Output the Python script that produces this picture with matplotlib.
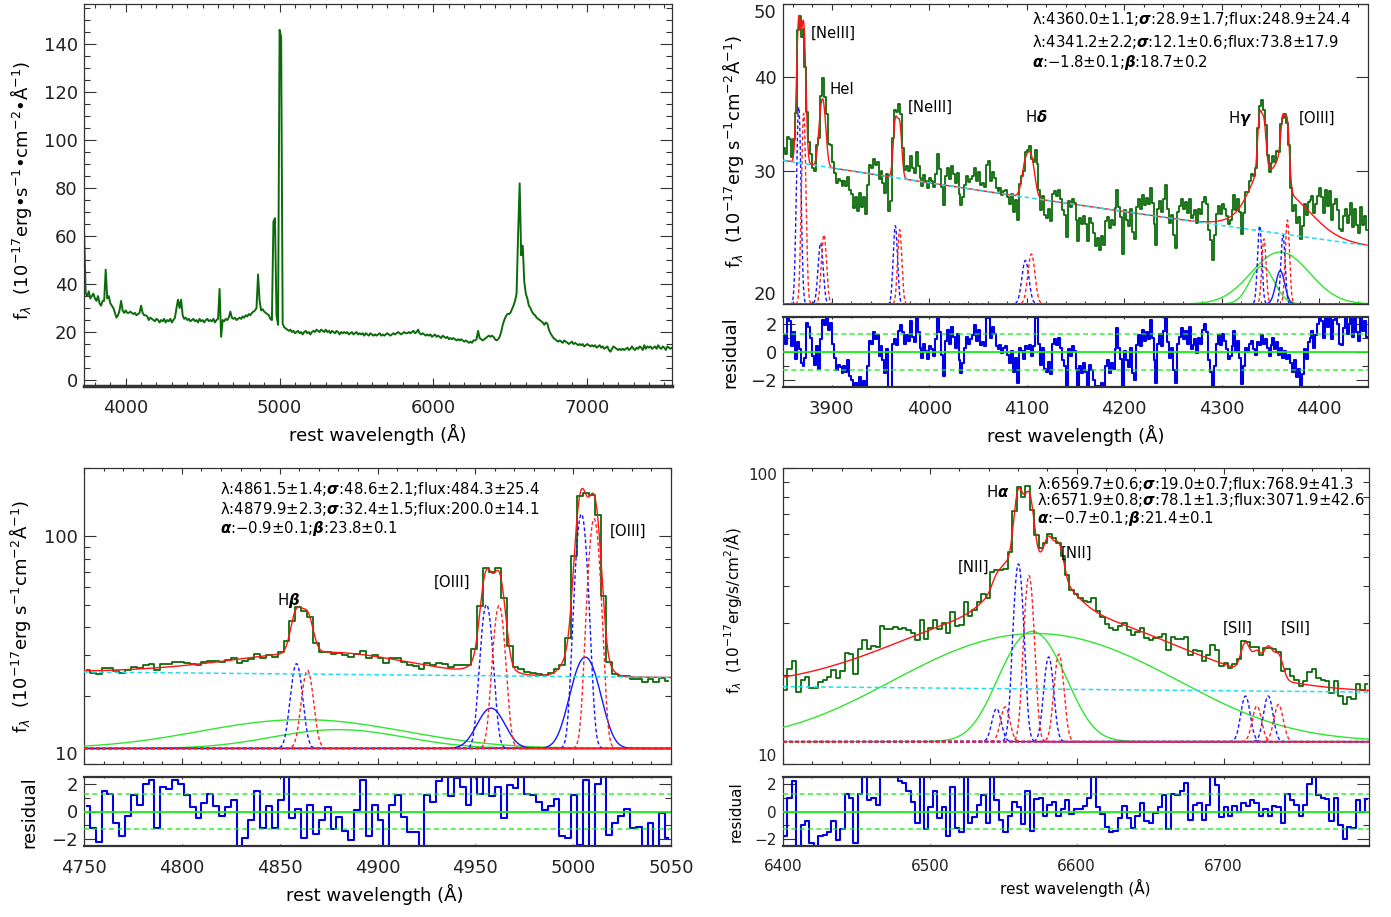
import numpy as np
import matplotlib
matplotlib.use("Agg")
import matplotlib.pyplot as plt
from matplotlib.ticker import FixedLocator, FixedFormatter, MultipleLocator, NullLocator
from matplotlib.mathtext import MathTextParser

plt.rcParams['font.family'] = ['DejaVu Sans']
plt.rcParams['mathtext.fontset'] = 'dejavusans'

# ----------------------------------------------------------------- data
# full spectrum (top-left), 10 A sampling from 3730 A
full_start, full_step = 3730, 10
full_flux = [
    61, 36, 35, 37, 34, 35, 36, 34, 33, 35,
    32, 31, 33, 33, 46, 34, 35, 32, 31, 30,
    28, 26, 27, 29, 33, 29, 28, 29, 28, 28,
    28.5, 28, 27.5, 28, 27, 27.5, 28, 31, 28, 27,
    27, 26.5, 25, 26, 25.5, 25, 24.5, 25.5, 25, 24,
    25, 24.5, 25.5, 24, 25, 24.5, 25.5, 24, 25, 26,
    30, 33.5, 30, 33.5, 27, 25.5, 26, 25, 25.5, 24.5,
    25, 25.5, 24.5, 25, 24, 25.5, 24.5, 25, 24, 25,
    25.5, 24.5, 25, 24.5, 25.5, 24, 25, 25.5, 38, 18,
    25, 24.5, 25.5, 25, 26, 28.5, 26, 25.5, 26, 25,
    25.5, 26, 25.5, 26.5, 26, 27, 26.5, 27.5, 27, 28,
    28.5, 29, 30, 44, 33, 29, 29.5, 28.5, 28, 27.5,
    27, 25.5, 25, 66, 67.5, 27, 23, 146, 143, 23.5,
    22, 21.5, 21, 20.5, 21, 20, 20.5, 19.5, 20, 20.5,
    19.5, 20, 19, 20, 20.5, 19.5, 20, 19, 20, 20.5,
    20, 21, 20.5, 20, 21, 20.5, 20, 21, 20, 20.5,
    19.5, 20.5, 20, 19.5, 20.5, 20, 19, 20, 19.5, 20,
    19.5, 20, 19, 19.5, 20, 19, 19.5, 20, 19, 19.5,
    19, 19.5, 18.5, 19.5, 19, 18.5, 19.5, 19, 18.5, 19,
    18.5, 19, 19.5, 18.5, 19, 18.5, 19, 19.5, 19, 18.5,
    19, 19.5, 19, 19.5, 20, 19.5, 19, 19.5, 20, 19.5,
    19.5, 20, 19.5, 20, 20.5, 19.5, 20, 21, 19.5, 19,
    19.5, 19, 18.5, 19, 18.5, 19, 18, 18.5, 19, 18,
    18.5, 18, 17.5, 18.5, 18, 17.5, 18, 17, 17.5, 17,
    17.5, 17, 16.5, 17, 16.5, 17, 16.5, 16, 16.5, 16,
    15.5, 16, 15.5, 16.5, 16.5, 17, 20.5, 17.5, 17, 16.5,
    17, 17.5, 18, 18.5, 18, 18.5, 18, 17, 16.5, 17,
    18, 20, 23, 25, 26.5, 27.5, 27.5, 28, 29.5, 31,
    33, 36, 61, 82, 52, 56, 41, 36, 34, 31,
    30, 28.5, 27.5, 27, 26, 25.5, 25, 24.5, 24, 23,
    24, 23.5, 21, 19.5, 18.5, 17.5, 17, 16.5, 16, 16.5,
    16, 15.5, 16.5, 16, 15.5, 15, 15.5, 16, 15, 15.5,
    15, 14.5, 15, 14.5, 15, 14, 14.5, 15, 14.5, 14,
    14.5, 14, 14.5, 13.5, 14, 14.5, 13.5, 14, 13, 13.5,
    14, 12.5, 11.8, 13, 14, 13.5, 13, 12.5, 13, 12.5,
    13, 12.5, 13, 13.5, 12.5, 13, 14, 13, 12.5, 13.5,
    13, 14, 13.5, 12.5, 14.5, 13, 14, 13.5, 14, 13,
    13.5, 14, 13, 14.5, 13.5, 13, 14, 13.5, 12.5, 14,
    13.5, 13, 13.5]

# ---- H-gamma window
hg_start, hg_step = 3851, 2
hg_resid = [
    1.2, 0.6, 2.4, 2.2, 0.4, 1.4, -0.5, 0.7, 0.2, -0.8,
    -1.0, -0.4, 2.1, 1.8, 1.0, -0.3, -0.9, 0.4, -1.2, 0.9,
    2.3, 1.9, 2.8, 1.6, 2.1, 0.6, -0.4, -1.3, -0.9, -1.1,
    -1.5, -1.0, -1.4, -0.6, -1.7, -2.0, -3.2, -2.2, -3.4, -1.8,
    -3.0, -2.1, -3.5, -1.0, 0.8, 0.6, 1.4, 0.9, 1.2, -0.3,
    0.4, -0.6, -1.5, 0.2, -3.0, -2.8, 0.6, 0.9, 0.5, 1.5,
    1.9, 1.4, 0.6, 1.2, 0.8, 2.2, 1.1, 0.7, 2.7, 1.4,
    0.3, -0.4, 0.6, 0.1, -0.5, 0.4, 0.2, -0.3, 0.9, 2.8,
    1.4, -0.2, -1.7, 0.8, 1.6, 0.6, 1.8, 1.1, 0.3, 1.3,
    -0.6, -1.5, -0.8, 0.3, 1.1, 0.6, 0.9, 1.2, 1.9, 0.8,
    1.6, 0.5, 0.7, 0.4, 2.4, 2.8, 1.0, 1.8, 1.3, 0.4,
    0.2, 0.5, -0.1, 0.3, 0.4, -0.2, -0.8, 0.1, -1.4, -0.4,
    -2.2, 0.3, 0.1, -0.5, 0.4, 0.2, 0.5, -0.3, 0.4, 2.7,
    2.4, 0.6, -0.9, 0.3, -1.2, -1.4, -0.7, -1.6, 0.6, 0.9,
    0.5, 1.0, 0.3, -0.6, -1.0, -2.7, 0.2, -0.3, 0.4, 0.1,
    -1.2, -2.8, -1.0, -1.5, -0.8, -1.4, -2.7, -0.9, -1.3, -2.0,
    -3.0, -2.4, -3.2, -2.2, -2.8, -1.0, -0.6, -1.5, -0.8, -1.2,
    0.2, 1.7, 0.3, -0.5, -3.2, 0.1, -0.6, -1.1, 0.3, -1.5,
    -2.0, 0.5, 1.2, 0.4, 1.6, 0.8, 1.4, 0.9, 2.3, 1.0,
    -0.6, -2.2, 0.6, 1.3, 0.4, 1.5, 2.7, 0.7, -0.4, 0.3,
    -1.3, -2.2, 0.6, 1.1, 1.7, 0.9, 1.5, 0.6, 1.8, 0.2,
    0.5, 0.9, -0.1, 1.0, 0.6, 1.6, 2.0, 1.4, -0.6, -1.4,
    -2.8, -1.0, 0.6, 1.2, 0.5, 1.3, 0.8, 0.2, -0.5, -0.3,
    0.4, 1.5, 0.1, 0.8, -0.4, -2.3, -1.0, 0.3, 0.0, 0.6,
    0.8, 0.2, -0.2, 0.7, 0.5, 1.2, 0.6, 0.9, 0.3, -0.3,
    0.5, 1.0, 0.2, 0.7, -0.2, 0.3, -0.4, 0.1, -0.5, -0.2,
    -0.8, -1.4, -0.6, -1.8, -1.2, -2.7, -1.6, 0.2, -0.5, 0.7,
    1.0, 1.5, 0.3, 1.2, 2.0, 2.8, 2.2, 1.0, 3.0, 1.8,
    3.2, 0.9, 2.3, 2.8, 2.0, 0.6, 0.5, 1.7, 2.4, 1.3,
    2.0, 3.0, 1.1, 2.6, 1.4, 0.8, 2.9, 1.5, 2.2, 1.1]
hg_err = 1.0
hg_alpha, hg_alpha_err, hg_beta, hg_beta_err = -1.8, 0.1, 18.7, 0.2
hg_base = 20.0
hg_broad_wave = [4360.0, 4341.2]
hg_broad_wave_err = [1.1, 2.2]
hg_broad_sigma = [28.9, 12.1]
hg_broad_sigma_err = [1.7, 0.6]
hg_broad_flux = [248.9, 73.8]
hg_broad_flux_err = [24.4, 17.9]
hg_wing_wave = [4360.0]
hg_wing_sigma = [4.5]
hg_wing_amp = [2.14]
hg_blue_wave = [3866.1, 3888.6, 3965.2, 4098.6, 4338.9, 4362.8]
hg_blue_amp = [16.5, 4.1, 5.4, 2.85, 5.4, 4.7]
hg_red_wave = [3871.2, 3892.0, 3969.7, 4104.8, 4343.3, 4367.3]
hg_red_amp = [15.8, 4.7, 5.1, 3.3, 4.4, 5.85]
hg_narrow_sigma = [2.1, 2.5, 2.1, 3.5, 2.1, 2.1]

# ---- H-beta window
hb_start, hb_step = 4751.5, 3
hb_resid = [
    0.4, -1.2, -2.2, 1.5, 1.3, -0.8, -1.8, -0.3, 1.2, 0.5,
    2.0, 2.3, -1.2, 1.8, 1.6, 2.3, 2.0, 1.2, 0.3, -0.5,
    0.6, 1.3, 0.4, -0.3, 0.3, 0.8, -2.6, -1.9, -0.6, 1.5,
    -1.2, 0.4, -1.2, 0.8, 2.5, -0.5, 0.2, -1.9, 0.5, -1.6,
    -0.6, 0.3, -1.3, -0.4, -1.4, -2.1, 0.1, 2.3, -1.8, 0.5,
    -0.6, -2.6, 0.5, 1.2, -0.4, -1.5, -1.5, -2.6, 1.2, 0.7,
    2.2, 2.6, 1.1, 2.4, 1.8, 0.5, 2.6, 1.3, 2.6, 1.1,
    1.8, -0.5, 1.9, 1.7, 2.6, 1.3, 1.2, 0.7, 0.1, 0.4,
    0.9, -1.8, -1.9, 1.2, -2.4, 2.3, -2.5, 2.0, 2.6, -1.7,
    -0.8, -0.3, 0.2, -1.2, -1.1, -2.5, -0.8, -2.5, -0.1, -1.9]
hb_err = 0.45
hb_alpha, hb_alpha_err, hb_beta, hb_beta_err = -0.9, 0.1, 23.8, 0.1
hb_base = 11.7
hb_broad_wave = [4861.5, 4879.9]
hb_broad_wave_err = [1.4, 2.3]
hb_broad_sigma = [48.6, 32.4]
hb_broad_sigma_err = [2.1, 1.5]
hb_broad_flux = [484.3, 200.0]
hb_broad_flux_err = [25.4, 14.1]
hb_wing_wave = [4958.0, 5006.2]
hb_wing_sigma = [6.5, 6.5]
hb_wing_amp = [5.9, 17.8]
hb_blue_wave = [4858.6, 4955.7, 5004.2]
hb_blue_amp = [15.9, 38.5, 113.8]
hb_red_wave = [4864.2, 4962.1, 5010.7]
hb_red_amp = [14.1, 38.0, 108.0]
hb_narrow_sigma = [2.7, 2.7, 2.7]

# ---- H-alpha window
ha_start, ha_step = 6401.5, 3
ha_resid = [
    -1.8, 1.0, 2.2, -2.5, -1.0, -0.7, -2.3, -2.5, -1.8, -1.7,
    -1.5, -0.7, -2.1, -1.3, 1.3, 1.0, -2.3, 1.3, 2.5, 0.8,
    1.0, 0.5, 4.0, 3.2, 2.8, 3.0, 2.2, 2.1, 1.5, 0.7,
    -0.8, 2.5, -1.3, 0.3, 1.5, -0.5, 0.3, -1.8, 1.8, -1.2,
    -1.5, 2.5, -0.8, -0.4, 0.5, 1.2, -0.8, 2.5, 0.8, -0.6,
    -1.5, -0.3, 0.7, 0.3, -0.9, 1.5, -1.4, 0.9, 1.0, -0.3,
    0.5, 0.7, -0.3, 0.2, 0.8, -0.2, 0.2, 0.2, 0.4, 1.0,
    2.5, 0.3, -0.2, -1.1, -1.5, -1.4, -0.5, 0.4, -0.5, -1.2,
    -0.3, 0.6, -0.7, -0.8, -0.1, 0.3, 1.2, -1.3, 1.3, 1.2,
    1.5, 2.1, -0.6, 0.5, 0.6, -0.6, 0.5, 2.5, 1.9, -0.4,
    0.3, -0.3, 0.4, 0.0, 0.6, 0.4, 0.8, 0.6, -0.3, 0.2,
    -0.3, 0.4, 0.3, -0.8, 1.3, 0.8, 0.5, -0.3, 0.5, 2.0,
    2.5, 1.2, 1.0, 0.9, -0.7, 1.0, -1.0, -2.0, -1.1, -1.2,
    0.8, 0.0, 0.9]
ha_err = 1.0
ha_alpha, ha_alpha_err, ha_beta, ha_beta_err = -0.7, 0.1, 21.4, 0.1
ha_base = 11.9
ha_broad_wave = [6569.7, 6571.9]
ha_broad_wave_err = [0.6, 0.8]
ha_broad_sigma = [19.0, 78.1]
ha_broad_sigma_err = [0.7, 1.3]
ha_broad_flux = [768.9, 3071.9]
ha_broad_flux_err = [41.3, 42.6]
ha_wing_wave = []
ha_wing_sigma = []
ha_wing_amp = []
ha_blue_wave = [6545.4, 6560.3, 6580.9, 6714.9, 6730.4]
ha_blue_amp = [3.5, 35.5, 11.1, 5.07, 5.07]
ha_red_wave = [6551.3, 6567.5, 6587.9, 6722.7, 6737.4]
ha_red_amp = [3.7, 31.4, 11.6, 3.8, 4.0]
ha_narrow_sigma = [3.0, 3.0, 3.0, 3.0, 3.0]

CONT_REF = 5100.0
RES_BAND = 1.3

# ----------------------------------------------------------------- style
OBS = '#0b6b0b'
MODEL = '#ff1414'
CONT = '#22dcee'
BROAD = '#2fe62f'
NBLUE = '#1515ff'
NRED = '#ff2020'
RES = '#0000e6'
ZERO = '#16ee16'
FRAME = '#333333'

W, H = 1391, 917
fig = plt.figure(figsize=(W / 100, H / 100), dpi=100)


def _ok(s):
    try:
        MathTextParser('path').parse(s)
        return True
    except Exception:
        return False


BOLD = _ok(r'$\boldsymbol{\sigma}$')


def gk(name):
    return (r'$\boldsymbol{\%s}$' % name) if BOLD else (r'$\%s$' % name)


def fax(l, t, r, b):
    return fig.add_axes([l / W, 1 - b / H, (r - l) / W, (b - t) / H])


def ftext(x, y, s, **kw):
    fig.text(x / W, 1 - y / H, s, **kw)


def setup(ax, fs, xlen, ylen, xpad=9.5):
    ax.tick_params(axis='both', which='both', direction='in', top=True, right=True,
                   labelsize=fs, width=0.8, color=FRAME, labelcolor='#222222')
    ax.tick_params(axis='x', which='major', length=xlen, pad=xpad)
    ax.tick_params(axis='x', which='minor', length=xlen / 2)
    ax.tick_params(axis='y', which='major', length=ylen, pad=4.5)
    ax.tick_params(axis='y', which='minor', length=ylen / 2)
    for sp in ax.spines.values():
        sp.set_color(FRAME)
        sp.set_linewidth(0.9)


def edge_labels(ax, ticks, lim):
    # keep the labels at the ends of a log axis inside the frame
    for t, v in zip(ax.yaxis.get_major_ticks(), ticks):
        if np.isclose(v, lim[1]):
            t.label1.set_verticalalignment('top')
        elif np.isclose(v, lim[0]):
            t.label1.set_verticalalignment('bottom')


def gauss(x, c, s, a):
    return a * np.exp(-0.5 * ((x - c) / s) ** 2)


def build(x, p):
    cont = p['beta'] * (x / CONT_REF) ** p['alpha']
    comps = []
    for w, s, f in zip(p['bw'], p['bs'], p['bf']):
        comps.append(('broad', gauss(x, w, s, f / (s * np.sqrt(2 * np.pi)))))
    for w, s, a in zip(p['ww'], p['ws'], p['wa']):
        comps.append(('wing', gauss(x, w, s, a)))
    for w, a, s in zip(p['nbw'], p['nba'], p['ns']):
        comps.append(('nblue', gauss(x, w, s, a)))
    for w, a, s in zip(p['nrw'], p['nra'], p['ns']):
        comps.append(('nred', gauss(x, w, s, a)))
    model = cont + np.sum([c for _, c in comps], axis=0)
    return cont, comps, model


def draw_zoom(p, main_box, res_box, xlim, ylim, ymaj, ymin_ticks, xmaj, xmnr, fs):
    axm = fax(*main_box)
    axr = fax(*res_box)
    wave = p['start'] + p['step'] * np.arange(len(p['resid']))
    resid = np.array(p['resid'])
    xf = np.linspace(xlim[0], xlim[1], 4000)
    cont_f, comps_f, model_f = build(xf, p)
    cont_w, _, model_w = build(wave, p)
    obs = model_w + resid * p['err'] * np.sqrt(model_w / cont_w)

    axm.plot(wave, obs, color=OBS, lw=1.3, drawstyle='steps-mid', zorder=2)
    axm.plot(xf, model_f, color=MODEL, lw=1.0, zorder=3)
    axm.plot(xf, cont_f, color=CONT, lw=1.1, dashes=(3, 2), zorder=4)
    for kind, c in comps_f:
        y = p['base'] + c
        if kind == 'broad':
            axm.plot(xf, y, color=BROAD, lw=1.0, zorder=3)
        elif kind == 'wing':
            axm.plot(xf, y, color=NBLUE, lw=1.0, zorder=3)
        elif kind == 'nblue':
            axm.plot(xf, y, color=NBLUE, lw=1.0, dashes=(2.6, 1.8), zorder=3)
        else:
            axm.plot(xf, y, color=NRED, lw=1.0, dashes=(2.6, 1.8), zorder=3)
    axm.set_xlim(*xlim)
    axm.set_yscale('log')
    axm.set_ylim(*ylim)
    axm.yaxis.set_major_locator(FixedLocator(ymaj))
    axm.yaxis.set_major_formatter(FixedFormatter([str(v) for v in ymaj]))
    if ymin_ticks:
        axm.yaxis.set_minor_locator(FixedLocator(ymin_ticks))
    else:
        axm.yaxis.set_minor_locator(NullLocator())
    axm.yaxis.set_minor_formatter(FixedFormatter([]))
    axm.xaxis.set_major_locator(MultipleLocator(xmaj))
    axm.xaxis.set_minor_locator(MultipleLocator(xmnr))
    setup(axm, fs, 4.3, 8.4)
    axm.tick_params(axis='x', labelbottom=False)
    edge_labels(axm, ymaj, ylim)

    axr.plot(wave, resid, color=RES, lw=1.5, drawstyle='steps-mid', zorder=2)
    axr.axhline(0, color=ZERO, lw=1.3, zorder=3)
    axr.axhline(RES_BAND, color=ZERO, lw=1.2, dashes=(3, 2), alpha=0.8, zorder=3)
    axr.axhline(-RES_BAND, color=ZERO, lw=1.2, dashes=(3, 2), alpha=0.8, zorder=3)
    axr.set_xlim(*xlim)
    axr.set_ylim(-2.5, 2.5)
    axr.yaxis.set_major_locator(FixedLocator([-2, 0, 2]))
    axr.yaxis.set_minor_locator(FixedLocator([-1, 1]))
    axr.xaxis.set_major_locator(MultipleLocator(xmaj))
    axr.xaxis.set_minor_locator(MultipleLocator(xmnr))
    setup(axr, fs, 1.5, 8.4)
    for s in ('top', 'bottom'):
        axr.spines[s].set_linewidth(1.6)
    return axm, axr


def params_text(ws, wse, ss, sse, fs_, fse, a, ae, b, be):
    lines = []
    for w, we, s, se, f, fe in zip(ws, wse, ss, sse, fs_, fse):
        lines.append('λ:%.1f±%.1f;%s:%.1f±%.1f;flux:%.1f±%.1f' % (w, we, gk('sigma'), s, se, f, fe))
    lines.append('%s:%s±%.1f;%s:%.1f±%.1f' % (gk('alpha'), ('%.1f' % a).replace('-', '−'), ae,
                                             gk('beta'), b, be))
    return lines


def pack(pre):
    g = globals()
    return dict(start=g[pre + '_start'], step=g[pre + '_step'], resid=g[pre + '_resid'],
                err=g[pre + '_err'], alpha=g[pre + '_alpha'], beta=g[pre + '_beta'],
                base=g[pre + '_base'], bw=g[pre + '_broad_wave'], bs=g[pre + '_broad_sigma'],
                bf=g[pre + '_broad_flux'], ww=g[pre + '_wing_wave'], ws=g[pre + '_wing_sigma'],
                wa=g[pre + '_wing_amp'], nbw=g[pre + '_blue_wave'], nba=g[pre + '_blue_amp'],
                nrw=g[pre + '_red_wave'], nra=g[pre + '_red_amp'], ns=g[pre + '_narrow_sigma'])


def ptext(pre):
    g = globals()
    return params_text(g[pre + '_broad_wave'], g[pre + '_broad_wave_err'],
                       g[pre + '_broad_sigma'], g[pre + '_broad_sigma_err'],
                       g[pre + '_broad_flux'], g[pre + '_broad_flux_err'],
                       g[pre + '_alpha'], g[pre + '_alpha_err'],
                       g[pre + '_beta'], g[pre + '_beta_err'])


FS = 13
FSA = 10.7

# ----------------------------------------------------------------- top-left
ax0 = fax(84, 4, 672, 386)
full_wave = full_start + full_step * np.arange(len(full_flux))
ax0.plot(full_wave, full_flux, color=OBS, lw=1.4)
ax0.set_xlim(3729, 7550)
ax0.set_ylim(-2.5, 156.8)
ax0.xaxis.set_major_locator(MultipleLocator(1000))
ax0.xaxis.set_minor_locator(MultipleLocator(100))
ax0.yaxis.set_major_locator(MultipleLocator(20))
ax0.yaxis.set_minor_locator(MultipleLocator(5))
setup(ax0, FS, 5.5, 8.5)
ax0.spines['bottom'].set_linewidth(2.5)
ftext(21, 190, 'f$_\\lambda$  (10$^{-17}$erg•s$^{-1}$•cm$^{-2}$•Å$^{-1}$)', rotation=90,
      ha='center', va='center', fontsize=FS)
ftext(378, 434, 'rest wavelength (Å)', ha='center', va='center', fontsize=FS)

# ----------------------------------------------------------------- top-right (H-gamma)
draw_zoom(pack('hg'), (783, 4, 1368, 304), (783, 317, 1368, 387), (3850, 4450), (20, 50),
          [20, 30, 40, 50], None, 100, 20, FS)
for i, s in enumerate(ptext('hg')):
    ftext(1032, [19, 42, 63][i], s, ha='left', va='center', fontsize=FSA)
for s, x, y in [('[NeIII]', 833, 33), ('HeI', 842, 89), ('[NeIII]', 930, 107),
                ('H' + gk('delta'), 1036, 117), ('H' + gk('gamma'), 1240, 119), ('[OIII]', 1317, 118)]:
    ftext(x, y, s, ha='center', va='center', fontsize=FSA)
ftext(733, 151, 'f$_\\lambda$  (10$^{-17}$erg s$^{-1}$cm$^{-2}$Å$^{-1}$)', rotation=90,
      ha='center', va='center', fontsize=FS)
ftext(730, 352, 'residual', rotation=90, ha='center', va='center', fontsize=FS)
ftext(1076, 435, 'rest wavelength (Å)', ha='center', va='center', fontsize=FS)

# ----------------------------------------------------------------- bottom-left (H-beta)
draw_zoom(pack('hb'), (84, 468, 671, 764), (84, 777, 671, 846), (4750, 5050), (10, 200),
          [10, 100], [20, 30, 40, 50, 60, 70, 80, 90, 200], 50, 10, FS)
for i, s in enumerate(ptext('hb')):
    ftext(220, [489, 509, 528][i], s, ha='left', va='center', fontsize=FSA)
for s, x, y in [('H' + gk('beta'), 288, 600), ('[OIII]', 452, 582), ('[OIII]', 628, 531)]:
    ftext(x, y, s, ha='center', va='center', fontsize=FSA)
ftext(20, 616, 'f$_\\lambda$  (10$^{-17}$erg s$^{-1}$cm$^{-2}$Å$^{-1}$)', rotation=90,
      ha='center', va='center', fontsize=FS)
ftext(29, 812, 'residual', rotation=90, ha='center', va='center', fontsize=FS)
ftext(375, 894, 'rest wavelength (Å)', ha='center', va='center', fontsize=FS)

# ----------------------------------------------------------------- bottom-right (H-alpha)
FS2 = 11
draw_zoom(pack('ha'), (783, 468, 1369, 764), (783, 777, 1369, 846), (6400, 6799), (10, 100),
          [10, 100], [20, 30, 40, 50, 60, 70, 80, 90], 100, 20, FS2)
for i, s in enumerate(ptext('ha')):
    ftext(1037, [484, 500, 519][i], s, ha='left', va='center', fontsize=FSA)
for s, x, y in [('H' + gk('alpha'), 998, 492), ('[NII]', 974, 567), ('[NII]', 1077, 553),
                ('[SII]', 1238, 628), ('[SII]', 1296, 628)]:
    ftext(x, y, s, ha='center', va='center', fontsize=FSA)
ftext(732, 611, 'f$_\\lambda$  (10$^{-17}$erg/s/cm$^{2}$/Å)', rotation=90,
      ha='center', va='center', fontsize=FS2)
ftext(736, 812, 'residual', rotation=90, ha='center', va='center', fontsize=FS2)
ftext(1075, 888, 'rest wavelength (Å)', ha='center', va='center', fontsize=FS2)

fig.savefig('out.png', dpi=100)
